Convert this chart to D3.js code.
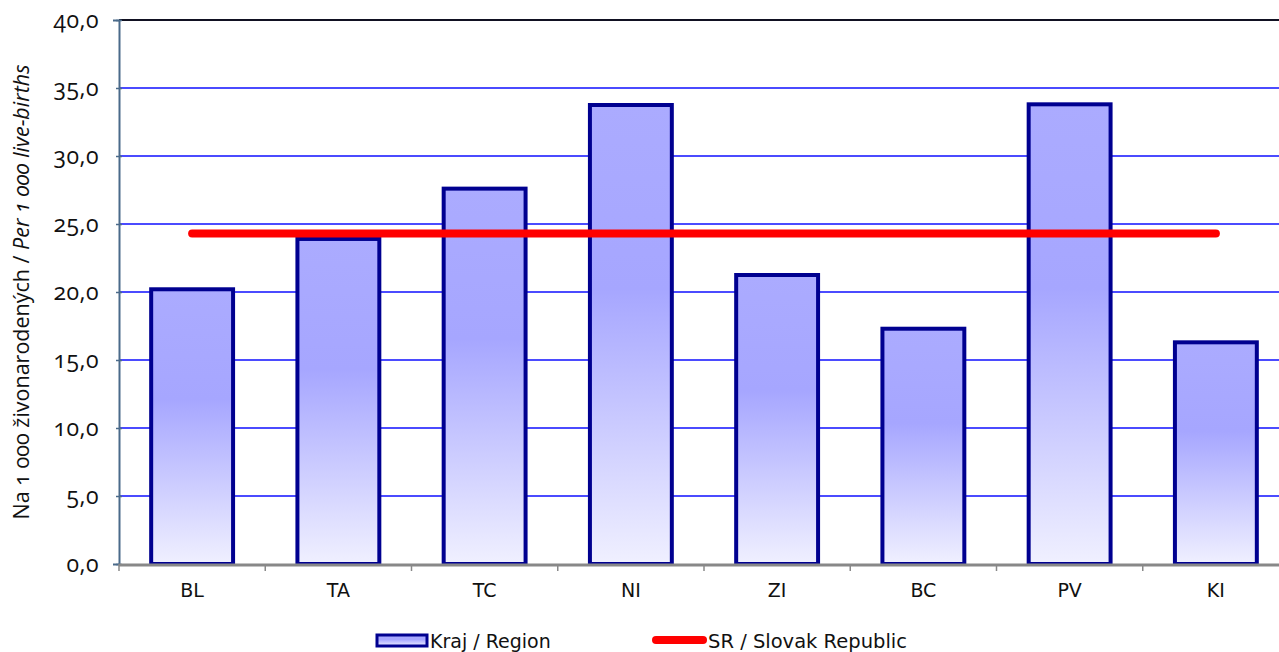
<!DOCTYPE html>
<html>
<head>
<meta charset="utf-8">
<script src="https://cdn.jsdelivr.net/npm/d3@7"></script>
<style>
body{margin:0;background:#fff}
.num{font-family:"Open Sans",Lato,sans-serif;font-variant-numeric:oldstyle-nums;font-feature-settings:"onum" 1}
.cat{font-family:"DejaVu Sans",sans-serif}
</style>
</head>
<body>
<div id="chart"></div>
<script>
var regions=["BL","TA","TC","NI","ZI","BC","PV","KI"]
var regionValues=[20.2,23.9,27.6,33.75,21.25,17.3,33.8,16.3]
var slovakValue=24.3
var yTicks=[0,5,10,15,20,25,30,35,40]

var svg=d3.select("#chart").append("svg")
    .attr("width",1279)
    .attr("height",652)

var plotLeft=119, plotTop=20, plotBottom=564, plotRight=1289

var x=d3.scaleBand().domain(regions).range([plotLeft,plotRight]).paddingInner(0.44).paddingOuter(0.22)
var y=d3.scaleLinear().domain([0,40]).range([plotBottom,plotTop])

var defs=svg.append("defs")
var grad=defs.append("linearGradient").attr("id","barfill").attr("x1",0).attr("y1",0).attr("x2",0).attr("y2",1)
grad.append("stop").attr("offset","0%").attr("stop-color","#ababff")
grad.append("stop").attr("offset","40%").attr("stop-color","#a6a6ff")
grad.append("stop").attr("offset","100%").attr("stop-color","#f0f0ff")

// gridlines
svg.append("g").selectAll("line")
  .data(yTicks.filter(function(d){return d>0 && d<40}))
  .enter().append("line")
  .attr("x1",plotLeft).attr("x2",1279)
  .attr("y1",function(d){return y(d)}).attr("y2",function(d){return y(d)})
  .attr("stroke","#4b4bff").attr("stroke-width",2)

// top border
svg.append("line").attr("x1",plotLeft).attr("x2",1279).attr("y1",y(40)).attr("y2",y(40))
  .attr("stroke","#111122").attr("stroke-width",2)

// y axis
var yAxis=d3.axisLeft(y).tickValues(yTicks).tickSize(6).tickPadding(14)
  .tickFormat(function(d){return d3.format(".1f")(d).replace(".",",")})
var ya=svg.append("g").attr("transform","translate("+plotLeft+",0)").call(yAxis)
ya.select(".domain").attr("stroke","#4a6a8a").attr("stroke-width",2)
ya.selectAll(".tick line").attr("stroke","#4a6a8a").attr("stroke-width",1.5).attr("transform","translate(3,0)")
ya.selectAll("text").attr("class","num").attr("font-size",23).attr("letter-spacing",0.5).attr("fill","#111")

// bars
svg.append("g").selectAll("rect")
  .data(regionValues)
  .enter().append("rect")
  .attr("x",function(d,i){return x(regions[i])})
  .attr("y",function(d){return y(d)})
  .attr("width",x.bandwidth())
  .attr("height",function(d){return y(0)-y(d)})
  .attr("fill","url(#barfill)")
  .attr("stroke","#000090")
  .attr("stroke-width",4)

// x axis
var xAxis=d3.axisBottom(x).tickSize(0).tickPadding(20)
var xa=svg.append("g").attr("transform","translate(0,"+plotBottom+")").call(xAxis)
xa.select(".domain").remove()
svg.append("line").attr("x1",plotLeft).attr("x2",1279).attr("y1",plotBottom+1).attr("y2",plotBottom+1)
  .attr("stroke","#888").attr("stroke-width",3)
var step=x.step()
svg.append("g").selectAll("line")
  .data(regions)
  .enter().append("line")
  .attr("x1",function(d){return x(d)-x.paddingInner()*step/2}).attr("x2",function(d){return x(d)-x.paddingInner()*step/2})
  .attr("y1",plotBottom).attr("y2",plotBottom+7)
  .attr("stroke","#888").attr("stroke-width",1.5)
xa.selectAll("text").attr("class","cat").attr("font-size",19).attr("fill","#111")

// SR line
var line=d3.line().x(function(d){return x(d)+x.bandwidth()/2}).y(function(){return y(slovakValue)})
svg.append("path").datum([regions[0],regions[regions.length-1]])
  .attr("d",line).attr("stroke","#ff0000").attr("stroke-width",8)
  .attr("stroke-linecap","round").attr("fill","none")

// y title
var yt=svg.append("text").attr("class","num")
  .attr("transform","translate(29,292) rotate(-90)")
  .attr("text-anchor","middle").attr("font-size",21.5).attr("fill","#111")
yt.append("tspan").text("Na 1 000 živonarodených / ")
yt.append("tspan").attr("font-style","italic").text("Per 1 000 live-births")

// legend
var lg=svg.append("g").attr("class","cat")
lg.append("rect").attr("x",377).attr("y",635).attr("width",50).attr("height",11)
  .attr("fill","url(#barfill)").attr("stroke","#000090").attr("stroke-width",3)
lg.append("text").attr("x",430).attr("y",648).attr("font-size",19).attr("fill","#111").text("Kraj / Region")
lg.append("line").attr("x1",656).attr("x2",703).attr("y1",640).attr("y2",640)
  .attr("stroke","#ff0000").attr("stroke-width",8).attr("stroke-linecap","round")
lg.append("text").attr("x",708).attr("y",648).attr("font-size",19.5).attr("fill","#111").text("SR / Slovak Republic")
</script>
</body>
</html>
